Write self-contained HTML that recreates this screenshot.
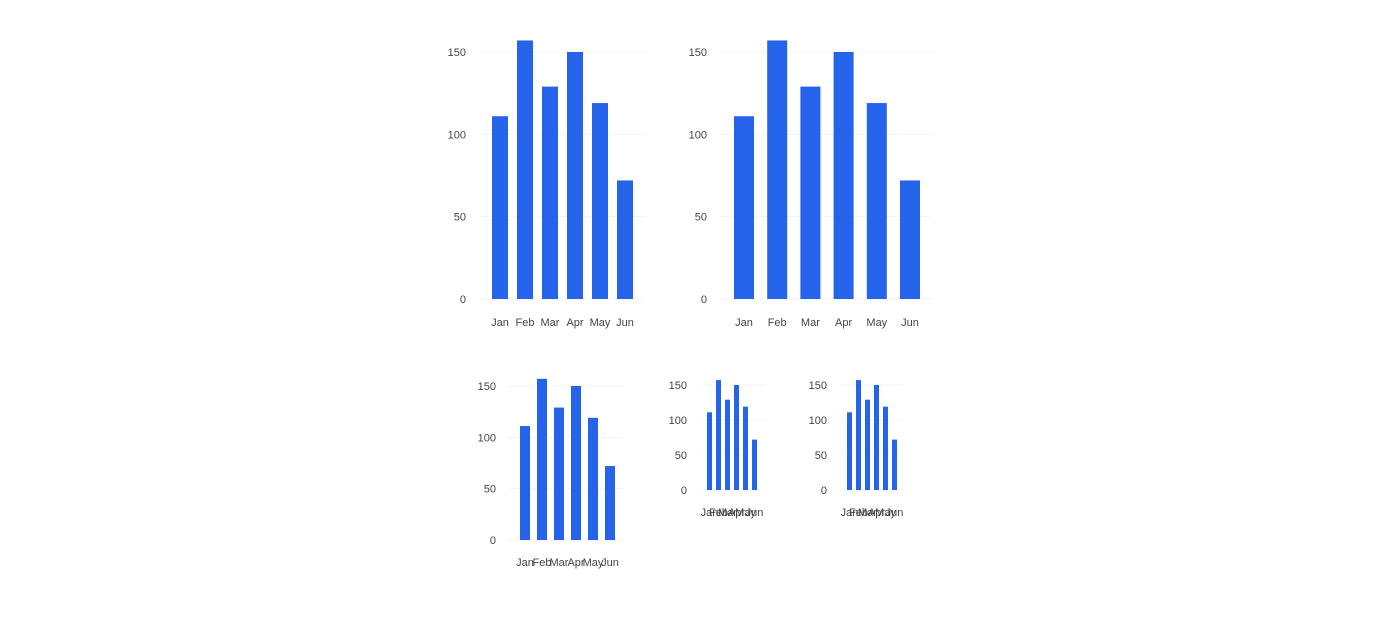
<!DOCTYPE html>
<html><head><meta charset="utf-8"><style>
html,body{margin:0;padding:0;background:#fff;width:1376px;height:620px;overflow:hidden}
svg{position:absolute;left:0;top:0}
text{font-family:"Liberation Sans",sans-serif;font-size:11px;fill:#444}
</style></head><body>
<svg id="c" width="1376" height="620"></svg>
<script>
const categories=["Jan","Feb","Mar","Apr","May","Jun"];
const values=[111,157,129,150,119,72];
const yTicks=[0,50,100,150];
const yMax=150;
const NS="http://www.w3.org/2000/svg";
const svg=document.getElementById('c');
function mk(tag,attrs,parent){const e=document.createElementNS(NS,tag);for(const k in attrs)e.setAttribute(k,attrs[k]);parent.appendChild(e);return e;}
const panels=[
 {name:'chart-large-1',y0:299,y150:52,gx0:480,gx1:645,bx0:492,step:25,bw:16,lx:466,tly:326},
 {name:'chart-large-2',y0:299,y150:52,gx0:720,gx1:932,bx0:734,step:33.2,bw:20,lx:707,tly:326},
 {name:'chart-medium',y0:540,y150:386,gx0:508,gx1:625,bx0:520,step:17,bw:10,lx:496,tly:566},
 {name:'chart-small-1',y0:490,y150:385,gx0:702,gx1:763,bx0:707,step:9,bw:5,lx:687,tly:516},
 {name:'chart-small-2',y0:490,y150:385,gx0:842,gx1:903,bx0:847,step:9,bw:5,lx:827,tly:516}
];
panels.forEach(p=>{
 const g=mk('g',{},svg);
 
 
 const y=v=>p.y0-(v/yMax)*(p.y0-p.y150);
 const x=i=>p.bx0+i*p.step;
 yTicks.forEach(t=>{
  const l=mk('line',{x1:p.gx0,x2:p.gx1,y1:y(t),y2:y(t),stroke:'#f2f3f5','stroke-width':1},g);
  
  
  const tx=mk('text',{x:p.lx,y:y(t)+4,'text-anchor':'end'},g);
  tx.textContent=t;
  
  
 });
 values.forEach((v,i)=>{
  const r=mk('rect',{x:x(i),y:y(v),width:p.bw,height:p.y0-y(v),fill:'#2563eb'},g);
  
  
  const tx=mk('text',{x:x(i)+p.bw/2,y:p.tly,'text-anchor':'middle'},g);
  tx.textContent=categories[i];
  
  
 });
});
</script>
</body></html>
